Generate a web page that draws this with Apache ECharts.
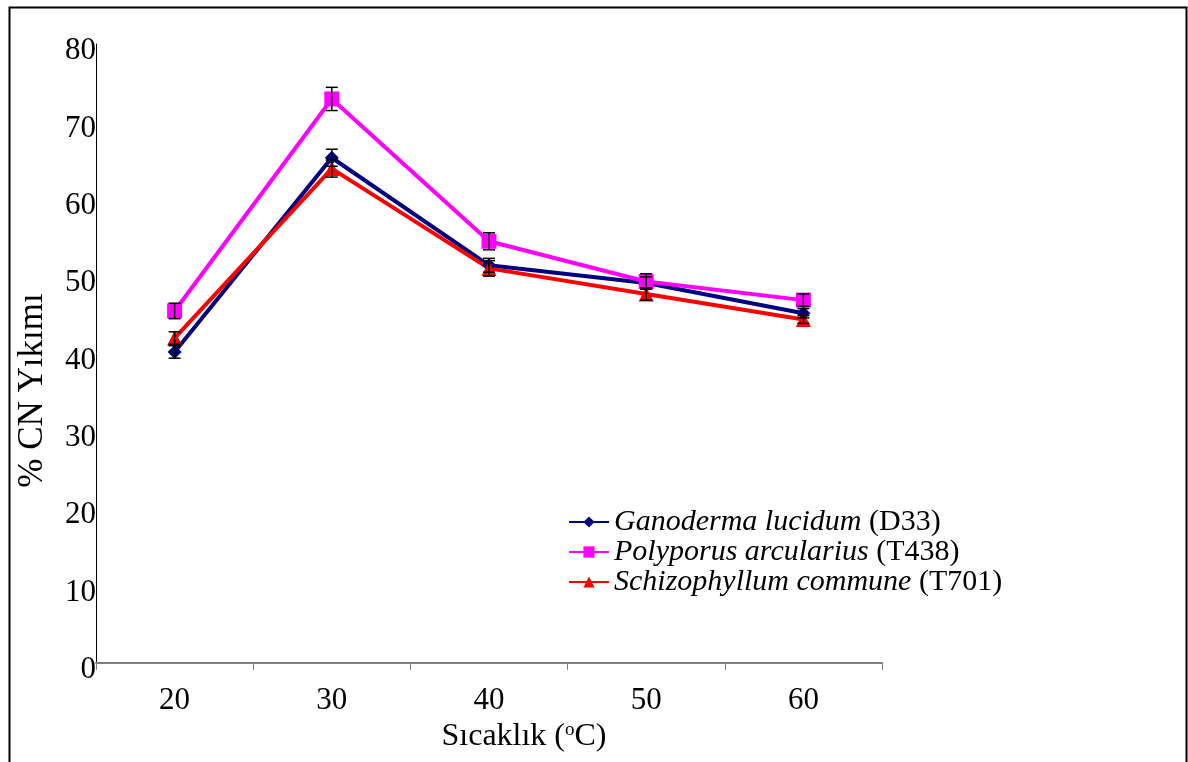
<!DOCTYPE html>
<html>
<head>
<meta charset="utf-8">
<title>% CN Yıkımı - Sıcaklık</title>
<style type="text/css">
    * { margin: 0; padding: 0; }
    html, body { background: #fff; }
</style>
</head>
<body>
<div id="chart" style="width: 1188px; height: 762px;"></div>
<script src="https://cdn.jsdelivr.net/npm/echarts@6/dist/echarts.min.js"></script>
<script type="text/javascript">
    // sıcaklık kategorileri
    var temps = ['20', '30', '40', '50', '60'];

    // ortalama % CN yıkımı
    var ganoderma = [40.2, 65.3, 51.4, 49.1, 45.2];
    var polyporus = [45.5, 72.9, 54.5, 49.3, 46.9];
    var schizophyllum = [42.0, 63.9, 51.0, 47.7, 44.4];

    // hata çubukları (±)
    var ganodermaErr = [0.8, 1.1, 0.9, 0.8, 0.6];
    var polyporusErr = [1.0, 1.5, 1.1, 1.0, 0.8];
    var schizophyllumErr = [0.8, 1.1, 1.0, 0.8, 0.5];

    var yTicks = [0, 10, 20, 30, 40, 50, 60, 70, 80];

    var names = {
        g: 'Ganoderma lucidum (D33)',
        p: 'Polyporus arcularius (T438)',
        s: 'Schizophyllum commune (T701)'
    };

    var serif = '"Liberation Serif", "DejaVu Serif", serif';

    function errorSeries(vals, errs) {
        var data = [];
        for (var i = 0; i < vals.length; i++) {
            data.push([i, vals[i] - errs[i], vals[i] + errs[i]]);
        }
        return {
            type: 'custom',
            silent: true,
            z: 5,
            data: data,
            renderItem: function (params, api) {
                var lo = api.coord([api.value(0), api.value(1)]);
                var hi = api.coord([api.value(0), api.value(2)]);
                var w = 6;
                var st = { stroke: '#000', lineWidth: 1.5 };
                return {
                    type: 'group',
                    children: [
                        { type: 'line', shape: { x1: lo[0], y1: lo[1], x2: hi[0], y2: hi[1] }, style: st },
                        { type: 'line', shape: { x1: lo[0] - w, y1: lo[1], x2: lo[0] + w, y2: lo[1] }, style: st },
                        { type: 'line', shape: { x1: hi[0] - w, y1: hi[1], x2: hi[0] + w, y2: hi[1] }, style: st }
                    ]
                };
            }
        };
    }

    function lineSeries(name, vals, color, symbol, size) {
        return {
            name: name,
            type: 'line',
            data: vals,
            symbol: symbol,
            symbolSize: size,
            z: 3,
            lineStyle: { color: color, width: 4 },
            itemStyle: { color: color },
            emphasis: { disabled: true }
        };
    }

    var chart = echarts.init(document.getElementById('chart'));

    var option = {
        animation: false,
        backgroundColor: '#fff',
        graphic: [{
            type: 'rect',
            left: 7, top: 5,
            shape: { width: 1177, height: 780 },
            style: { fill: 'none', stroke: '#000', lineWidth: 2 }
        }],
        grid: { left: 96, right: 306, top: 44, bottom: 99, outerBoundsMode: 'none', containLabel: false },
        legend: {
            orient: 'vertical',
            left: 568,
            top: 507,
            padding: 0,
            itemGap: 0,
            itemWidth: 40,
            itemHeight: 14,
            data: [names.g, names.p, names.s],
            formatter: function (n) {
                var k = n.indexOf(' (');
                return '{i|' + n.slice(0, k) + '} {n|' + n.slice(k + 1) + '}';
            },
            textStyle: {
                fontFamily: serif,
                fontSize: 30,
                color: '#000',
                rich: {
                    i: { fontFamily: serif, fontSize: 30, fontStyle: 'italic', color: '#000', height: 30, lineHeight: 30 },
                    n: { fontFamily: serif, fontSize: 30, color: '#000', height: 30, lineHeight: 30 }
                }
            }
        },
        xAxis: {
            type: 'category',
            data: temps,
            boundaryGap: true,
            name: 'Sıcaklık ({s|o}C)',
            nameLocation: 'middle',
            nameGap: 58,
            nameTextStyle: {
                fontFamily: serif,
                fontSize: 32,
                color: '#000',
                padding: [0, 0, 0, 70],
                rich: {
                    s: { fontFamily: serif, fontSize: 19, color: '#000', verticalAlign: 'top', padding: [0, 0, 12, 0] }
                }
            },
            axisLine: { lineStyle: { color: '#7f7f7f', width: 2 } },
            axisTick: { show: true, length: 7, lineStyle: { color: '#7f7f7f', width: 1 } },
            axisLabel: { fontFamily: serif, fontSize: 31, color: '#000', margin: 22 },
            splitLine: { show: false }
        },
        yAxis: {
            type: 'value',
            min: yTicks[0],
            max: yTicks[yTicks.length - 1],
            interval: 10,
            name: '% CN Yıkımı',
            nameLocation: 'middle',
            nameGap: 46,
            nameRotate: 90,
            nameTextStyle: { fontFamily: serif, fontSize: 35, color: '#000', padding: [0, 74, 0, 0] },
            axisLine: { show: true, lineStyle: { color: '#000', width: 1 } },
            axisTick: { show: false },
            axisLabel: {
                margin: 0,
                formatter: function (v) { return '{a|' + v + '}'; },
                rich: {
                    a: { fontFamily: serif, fontSize: 31, color: '#000', padding: [14, 0, 0, 0] }
                }
            },
            splitLine: { show: false }
        },
        series: [
            lineSeries(names.g, ganoderma, '#000080', 'diamond', 14),
            lineSeries(names.p, polyporus, '#ff00ff', 'rect', 15),
            lineSeries(names.s, schizophyllum, '#ff0000', 'triangle', 15),
            errorSeries(ganoderma, ganodermaErr),
            errorSeries(polyporus, polyporusErr),
            errorSeries(schizophyllum, schizophyllumErr)
        ]
    };

    chart.setOption(option);
</script>
</body>
</html>
